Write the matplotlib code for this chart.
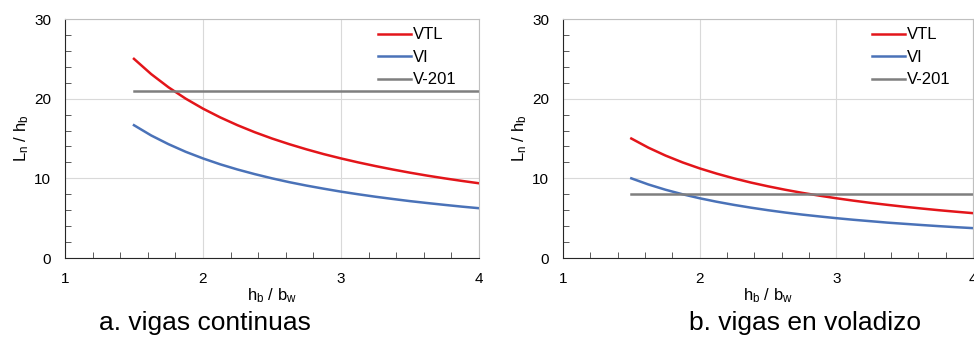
import matplotlib.pyplot as plt
from matplotlib.ticker import MultipleLocator

plt.rcParams['font.family'] = ['Liberation Sans', 'DejaVu Sans']
plt.rcParams['mathtext.fontset'] = 'custom'
plt.rcParams['mathtext.rm'] = 'Liberation Sans'
plt.rcParams['mathtext.it'] = 'Liberation Sans'

# values
x = [1.5, 1.625, 1.75, 1.875, 2.0, 2.125, 2.25, 2.375, 2.5, 2.625, 2.75,
     2.875, 3.0, 3.125, 3.25, 3.375, 3.5, 3.625, 3.75, 3.875, 4.0]

vtl_cont = [25.0, 23.08, 21.43, 20.0, 18.75, 17.65, 16.67, 15.79, 15.0, 14.29, 13.64,
            13.04, 12.5, 12.0, 11.54, 11.11, 10.71, 10.34, 10.0, 9.68, 9.38]
vi_cont = [16.67, 15.38, 14.29, 13.33, 12.5, 11.76, 11.11, 10.53, 10.0, 9.52, 9.09,
           8.70, 8.33, 8.0, 7.69, 7.41, 7.14, 6.90, 6.67, 6.45, 6.25]
v201_cont = [21, 21]

vtl_vol = [15.0, 13.85, 12.86, 12.0, 11.25, 10.59, 10.0, 9.47, 9.0, 8.57, 8.18,
           7.83, 7.5, 7.2, 6.92, 6.67, 6.43, 6.21, 6.0, 5.81, 5.63]
vi_vol = [10.0, 9.23, 8.57, 8.0, 7.5, 7.06, 6.67, 6.32, 6.0, 5.71, 5.45,
          5.22, 5.0, 4.8, 4.62, 4.44, 4.29, 4.14, 4.0, 3.87, 3.75]
v201_vol = [8, 8]
x_v201 = [1.5, 4.0]

titles = ['a. vigas continuas', 'b. vigas en voladizo']

red = '#e3151a'
blue = '#4a72b8'
gray = '#7f7f7f'

fig = plt.figure(figsize=(9.74, 3.37), dpi=100)
ax1 = fig.add_axes([0.0667, 0.2344, 0.4251, 0.7092])
ax2 = fig.add_axes([0.578, 0.2344, 0.421, 0.7092])

panels = [(ax1, vtl_cont, vi_cont, v201_cont), (ax2, vtl_vol, vi_vol, v201_vol)]

for ax, vtl, vi, v201 in panels:
    ax.plot(x, vtl, color=red, lw=1.8, label='VTL')
    ax.plot(x, vi, color=blue, lw=1.8, label='VI')
    ax.plot(x_v201, v201, color=gray, lw=1.8, label='V-201')
    ax.set_xlim(1, 4)
    ax.set_ylim(0, 30)
    ax.xaxis.set_major_locator(MultipleLocator(1))
    ax.xaxis.set_minor_locator(MultipleLocator(0.2))
    ax.yaxis.set_major_locator(MultipleLocator(10))
    ax.yaxis.set_minor_locator(MultipleLocator(2))
    ax.tick_params(which='both', direction='in', top=False, right=False, labelsize=11, color='#404040')
    ax.tick_params(which='major', length=0, pad=10)
    ax.tick_params(which='minor', length=4)
    ax.grid(True, which='major', color='#d9d9d9', lw=0.8)
    for s in ['top', 'right']:
        ax.spines[s].set_color('#bfbfbf')
    for s in ['left', 'bottom']:
        ax.spines[s].set_color('#262626')
    ax.set_xlabel(r'h$_\mathregular{b}$ / b$_\mathregular{w}$', fontsize=12, labelpad=0)
    ax.set_ylabel(r'L$_\mathregular{n}$ / h$_\mathregular{b}$', fontsize=12, labelpad=2)
    ax.legend(loc='upper right', frameon=False, fontsize=12, handlelength=2.0,
              handletextpad=0.1, labelspacing=0.45, borderaxespad=0.1,
              bbox_to_anchor=(0.965, 1.0))

fig.text(0.21, 0.042, titles[0], fontsize=19, ha='center', va='center')
fig.text(0.827, 0.042, titles[1], fontsize=19, ha='center', va='center')

fig.savefig('out.png', dpi=100)
